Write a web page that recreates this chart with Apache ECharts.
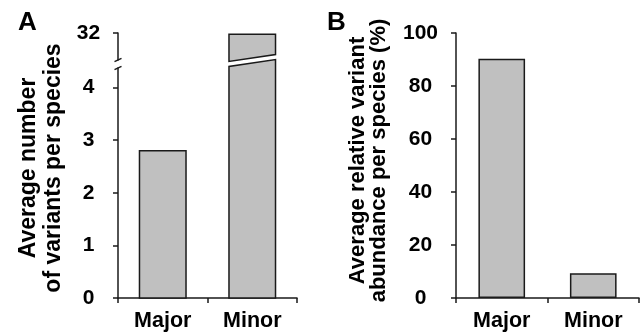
<!DOCTYPE html>
<html><head><meta charset="utf-8">
<script src="https://cdn.jsdelivr.net/npm/echarts@6/dist/echarts.min.js"></script>
<style>html,body{margin:0;padding:0;background:#fff}#c{width:642px;height:332px}</style>
</head><body><div id="c"></div>
<script>
// ---- data ----
const categories = ['Major', 'Minor'];
const countValues = [2.8, 31.9];          // panel A: average number of variants per species
const abundanceValues = [90.3, 9.3];      // panel B: average relative variant abundance (%)
const countLowTicks = [0, 1, 2, 3, 4];
const countHighTicks = [32];
const abundanceTicks = [0, 20, 40, 60, 80, 100];
const panelLetters = ['A', 'B'];
const titleA = 'Average number\nof variants per species';
const titleB = 'Average relative variant\nabundance per species (%)';

// ---- style ----
const FONT = "'Liberation Sans', Arial, Helvetica, sans-serif";
const INK = '#1a1a1a';
const FILL = '#c0c0c0';
const LOW_MAX = 4.37, HIGH_MIN = 30, HIGH_MAX = 32;
const BAR_FRAC = 0.52;

const chart = echarts.init(document.getElementById('c'), null, {renderer: 'canvas'});

const barStyle = {fill: FILL, stroke: INK, lineWidth: 1.5};

function lowRender(params, api) {
  const cat = api.value(0), v = api.value(1);
  const cs = params.coordSys;
  const base = api.coord([cat, 0]);
  const top = api.coord([cat, v]);
  const w = api.size([1, 0])[0] * BAR_FRAC;
  const x0 = base[0] - w / 2, x1 = base[0] + w / 2;
  if (top[1] >= cs.y) {
    return {type: 'rect', shape: {x: x0, y: top[1], width: w, height: base[1] - top[1]}, style: barStyle};
  }
  return {type: 'polygon', shape: {points: [[x0, base[1]], [x0, cs.y - 1.5], [x1, cs.y - 8.5], [x1, base[1]]]}, style: barStyle};
}
function highRender(params, api) {
  const cat = api.value(0), v = api.value(1);
  if (v <= HIGH_MIN) return null;
  const cs = params.coordSys;
  const top = api.coord([cat, v]);
  const w = api.size([1, 0])[0] * BAR_FRAC;
  const x0 = top[0] - w / 2, x1 = top[0] + w / 2;
  const bot = cs.y + cs.height;
  return {type: 'polygon', shape: {points: [[x0, top[1]], [x1, top[1]], [x1, bot - 5.5], [x0, bot + 1.5]]}, style: barStyle};
}

const axisLine = {show: true, lineStyle: {color: INK, width: 1.5}};
const labelText = {color: '#000', fontFamily: FONT, fontWeight: 'bold', fontSize: 21};
const catText = {color: '#000', fontFamily: FONT, fontWeight: 'bold', fontSize: 21.5};

const option = {
  animation: false,
  backgroundColor: '#fff',
  title: [
    {text: panelLetters[0], left: 13, top: 5, textStyle: {fontSize: 26, fontWeight: 'bold', color: '#000', fontFamily: FONT}},
    {text: panelLetters[1], left: 322, top: 5, textStyle: {fontSize: 26, fontWeight: 'bold', color: '#000', fontFamily: FONT}}
  ],
  grid: [
    {left: 118, top: 33, width: 179, height: 27},   // A upper (broken) part
    {left: 118, top: 68, width: 179, height: 230},  // A lower part
    {left: 456, top: 33, width: 183, height: 265}   // B
  ],
  xAxis: [
    {type: 'category', gridIndex: 0, data: categories, show: false},
    {type: 'category', gridIndex: 1, data: categories,
     axisLine: axisLine, axisTick: {show: true, length: 5, lineStyle: {color: INK, width: 1.5}},
     axisLabel: Object.assign({margin: 12}, catText)},
    {type: 'category', gridIndex: 2, data: categories,
     axisLine: axisLine, axisTick: {show: true, length: 5, lineStyle: {color: INK, width: 1.5}},
     axisLabel: Object.assign({margin: 12}, catText)}
  ],
  yAxis: [
    {type: 'value', gridIndex: 0, min: HIGH_MIN, max: HIGH_MAX, splitLine: {show: false},
     axisLine: axisLine, axisTick: {show: true, length: 5, customValues: countHighTicks, lineStyle: {color: INK, width: 1.5}},
     axisLabel: Object.assign({margin: 29.5, align: 'center', customValues: countHighTicks}, labelText)},
    {type: 'value', gridIndex: 1, min: 0, max: LOW_MAX, splitLine: {show: false},
     axisLine: axisLine, axisTick: {show: true, length: 5, customValues: countLowTicks, lineStyle: {color: INK, width: 1.5}},
     axisLabel: Object.assign({margin: 29.5, align: 'center', customValues: countLowTicks}, labelText),
     name: titleA, nameLocation: 'middle', nameGap: 52,
     nameTextStyle: {fontFamily: FONT, fontWeight: 'bold', fontSize: 23, lineHeight: 25, color: '#000', padding: [0, 0, 0, 30]}},
    {type: 'value', gridIndex: 2, min: 0, max: 100, interval: 20, splitLine: {show: false},
     axisLine: axisLine, axisTick: {show: true, length: 5, customValues: abundanceTicks, lineStyle: {color: INK, width: 1.5}},
     axisLabel: Object.assign({margin: 35.5, align: 'center', customValues: abundanceTicks}, labelText),
     name: titleB, nameLocation: 'middle', nameGap: 67,
     nameTextStyle: {fontFamily: FONT, fontWeight: 'bold', fontSize: 22, lineHeight: 21, color: '#000', padding: [0, 0, 0, 10]}}
  ],
  series: [
    {type: 'custom', xAxisIndex: 0, yAxisIndex: 0, renderItem: highRender,
     data: countValues.map((v, i) => [i, v])},
    {type: 'custom', xAxisIndex: 1, yAxisIndex: 1, renderItem: lowRender,
     data: countValues.map((v, i) => [i, v])},
    {type: 'bar', xAxisIndex: 2, yAxisIndex: 2, barWidth: '51%', data: abundanceValues,
     itemStyle: {color: FILL, borderColor: INK, borderWidth: 1.5}}
  ]
};
chart.setOption(option);

// axis-break marks on panel A's y axis, placed from the grids' own layout
const rUp = chart.getModel().getComponent('grid', 0).coordinateSystem.getRect();
const rLow = chart.getModel().getComponent('grid', 1).coordinateSystem.getRect();
const ax = rLow.x, yA = rUp.y + rUp.height, yB = rLow.y;
chart.setOption({
  graphic: [
    {type: 'line', shape: {x1: ax - 3.5, y1: yA + 1.6, x2: ax + 3.5, y2: yA - 1.6}, style: {stroke: INK, lineWidth: 1.5}},
    {type: 'line', shape: {x1: ax - 3.5, y1: yB + 1.6, x2: ax + 3.5, y2: yB - 1.6}, style: {stroke: INK, lineWidth: 1.5}}
  ]
});
</script>
</body></html>
